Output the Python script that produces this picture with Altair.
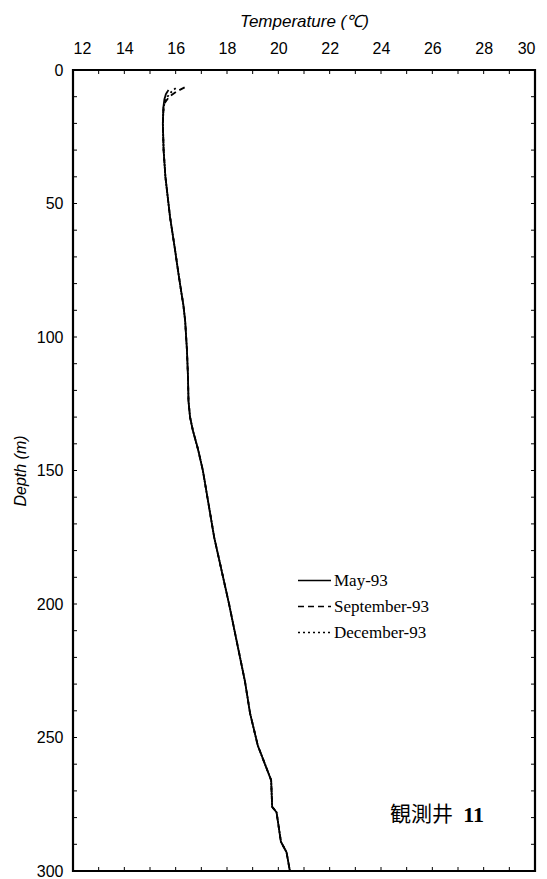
import altair as alt
import pandas as pd

# Borehole temperature profiles (depth in m, temperature in °C)
depth_may = [7.5, 9, 11, 14, 20, 30, 40, 55, 67, 75, 82, 88, 94, 105, 115, 124, 130, 135,
             142, 150, 175, 200, 229, 241, 253, 266, 276, 278, 289, 293, 300]
temp_may = [15.72, 15.62, 15.56, 15.52, 15.5, 15.53, 15.6, 15.78, 15.97, 16.09, 16.2,
            16.3, 16.37, 16.44, 16.48, 16.5, 16.56, 16.67, 16.87, 17.06, 17.5, 18.08,
            18.7, 18.9, 19.2, 19.72, 19.76, 19.93, 20.1, 20.32, 20.45]

depth_sep = [6.5, 8, 10, 12, 14, 20, 30, 40, 55, 67, 75, 82, 88, 94, 105, 115, 124, 130,
             135, 142, 150, 175, 200, 229, 241, 253, 266, 276, 278, 289, 293, 300]
temp_sep = [16.35, 16.05, 15.75, 15.6, 15.53, 15.5, 15.53, 15.6, 15.78, 15.97, 16.09,
            16.2, 16.3, 16.37, 16.44, 16.48, 16.5, 16.56, 16.67, 16.87, 17.06, 17.5,
            18.08, 18.7, 18.9, 19.2, 19.72, 19.76, 19.93, 20.1, 20.32, 20.45]

depth_dec = [6.8, 8, 10, 12, 14, 20, 30, 40, 55, 67, 75, 82, 88, 94, 105, 115, 124, 130,
             135, 142, 150, 175, 200, 229, 241, 253, 266, 276, 278, 289, 293, 300]
temp_dec = [16.0, 15.85, 15.68, 15.58, 15.53, 15.5, 15.53, 15.6, 15.78, 15.97, 16.09,
            16.2, 16.3, 16.37, 16.44, 16.48, 16.5, 16.56, 16.67, 16.87, 17.06, 17.5,
            18.08, 18.7, 18.9, 19.2, 19.72, 19.76, 19.93, 20.1, 20.32, 20.45]

series_names = ["May-93", "September-93", "December-93"]
series_dash = [[1, 0], [6, 4], [2, 3]]

x_ticks = list(range(12, 31, 1))
y_ticks = list(range(0, 301, 10))

frames = []
for name, d, t in zip(series_names, [depth_may, depth_sep, depth_dec],
                      [temp_may, temp_sep, temp_dec]):
    frames.append(pd.DataFrame({"series": name, "depth": d, "temp": t}))
profiles = pd.concat(frames[::-1], ignore_index=True)

x_scale = alt.Scale(domain=[12, 30], nice=False, zero=False)
y_scale = alt.Scale(domain=[0, 300], reverse=True, nice=False, zero=False)

x_axis = alt.Axis(orient="top", values=list(range(12, 31, 2)), title="Temperature (℃)",
                  titleFontStyle="italic", titleFontWeight="normal", titleFontSize=17,
                  titleFont="Liberation Sans", titlePadding=10, titleColor="black",
                  labelFont="Liberation Sans", labelFontSize=16, labelPadding=14,
                  labelColor="black", ticks=False, domain=False, grid=False)
y_axis = alt.Axis(values=list(range(0, 301, 50)), title="Depth (m)",
                  titleFontStyle="italic", titleFontWeight="normal", titleFontSize=16,
                  titleFont="Liberation Sans", titlePadding=8, titleColor="black",
                  labelFont="Liberation Sans", labelFontSize=16, labelPadding=10,
                  labelColor="black", ticks=False, domain=False, grid=False)

lines = alt.Chart(profiles).mark_line(strokeWidth=1.8, color="black").encode(
    x=alt.X("temp:Q", scale=x_scale, axis=x_axis),
    y=alt.Y("depth:Q", scale=y_scale, axis=y_axis),
    order=alt.Order("depth:Q"),
    strokeDash=alt.StrokeDash(
        "series:N",
        scale=alt.Scale(domain=series_names, range=series_dash),
        legend=alt.Legend(
            title=None, orient="none", legendX=224, legendY=493,
            symbolType="stroke", symbolSize=1089, symbolStrokeColor="black",
            symbolStrokeWidth=1.3, labelFont="Liberation Serif", labelFontSize=17,
            labelOffset=2, rowPadding=0, labelColor="black",
        ),
    ),
)

# inward tick marks along the frame
xt = pd.DataFrame({"v": x_ticks})
yt = pd.DataFrame({"v": y_ticks})
ticks_top = alt.Chart(xt).mark_rule(color="black", strokeWidth=1).encode(
    x=alt.X("v:Q", scale=x_scale), y=alt.value(0), y2=alt.value(4))
ticks_bottom = alt.Chart(xt).mark_rule(color="black", strokeWidth=1).encode(
    x=alt.X("v:Q", scale=x_scale), y=alt.value(801), y2=alt.value(797))
ticks_left = alt.Chart(yt).mark_rule(color="black", strokeWidth=1).encode(
    y=alt.Y("v:Q", scale=y_scale), x=alt.value(0), x2=alt.value(4))
ticks_right = alt.Chart(yt).mark_rule(color="black", strokeWidth=1).encode(
    y=alt.Y("v:Q", scale=y_scale), x=alt.value(462), x2=alt.value(458))

# well label
label_df = pd.DataFrame({"temp": [24.35, 27.2], "depth": [279, 279],
                         "text": ["観測井", "11"]})
label_kanji = alt.Chart(label_df.iloc[[0]]).mark_text(
    align="left", baseline="middle", fontSize=21, font="Noto Sans CJK JP", color="black"
).encode(x=alt.X("temp:Q", scale=x_scale), y=alt.Y("depth:Q", scale=y_scale), text="text:N")
label_num = alt.Chart(label_df.iloc[[1]]).mark_text(
    align="left", baseline="middle", fontSize=22, font="Liberation Serif",
    fontWeight="bold", color="black"
).encode(x=alt.X("temp:Q", scale=x_scale), y=alt.Y("depth:Q", scale=y_scale), text="text:N")

chart = alt.layer(
    ticks_top, ticks_bottom, ticks_left, ticks_right, lines, label_kanji, label_num
).properties(
    width=462, height=801,
    autosize=alt.AutoSizeParams(type="none"),
    padding={"left": 73, "top": 70, "right": 12, "bottom": 8},
    background="white",
).configure_view(
    stroke="black", strokeWidth=2.2
)

chart.save("out.html", embed_options={"renderer": "svg", "actions": False})
